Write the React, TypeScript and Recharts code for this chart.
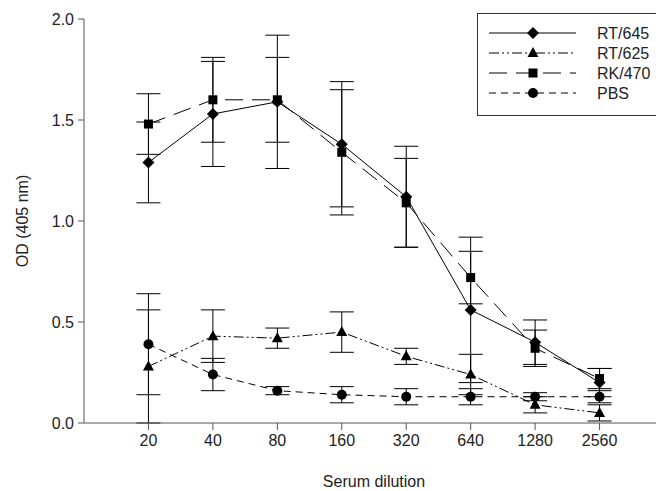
import React from 'react';
import { LineChart, Line, XAxis, YAxis, ErrorBar } from 'recharts';

const categories = ['20', '40', '80', '160', '320', '640', '1280', '2560'];
const yTicks = [0, 0.5, 1.0, 1.5, 2.0];

const rt645 = [1.29, 1.53, 1.59, 1.38, 1.12, 0.56, 0.4, 0.2];
const rt645Err = [0.2, 0.26, 0.33, 0.31, 0.25, 0.36, 0.11, 0.07];
const rt625 = [0.28, 0.43, 0.42, 0.45, 0.33, 0.24, 0.09, 0.05];
const rt625Err = [0.28, 0.13, 0.05, 0.1, 0.04, 0.1, 0.04, 0.04];
const rk470 = [1.48, 1.6, 1.6, 1.34, 1.09, 0.72, 0.37, 0.22];
const rk470Err = [0.15, 0.21, 0.21, 0.31, 0.22, 0.13, 0.09, 0.05];
const pbs = [0.39, 0.24, 0.16, 0.14, 0.13, 0.13, 0.13, 0.13];
const pbsErr = [0.25, 0.08, 0.02, 0.04, 0.04, 0.04, 0.02, 0.03];

const data = categories.map((c, i) => ({
  idx: i,
  rt645: rt645[i],
  rt645Err: rt645Err[i],
  rt625: rt625[i],
  rt625Err: rt625Err[i],
  rk470: rk470[i],
  rk470Err: rk470Err[i],
  pbs: pbs[i],
  pbsErr: pbsErr[i],
}));

const FONT = 'Liberation Sans, Arial, sans-serif';
const TEXT = '#222';

const Marker = ({ shape, cx, cy }: { shape: string; cx: number; cy: number }) => {
  if (shape === 'diamond') {
    return <path d={`M${cx},${cy - 6}L${cx + 6},${cy}L${cx},${cy + 6}L${cx - 6},${cy}Z`} fill="#000" />;
  }
  if (shape === 'triangle') {
    return <path d={`M${cx},${cy - 6}L${cx + 5.5},${cy + 4}L${cx - 5.5},${cy + 4}Z`} fill="#000" />;
  }
  if (shape === 'square') {
    return <rect x={cx - 4.5} y={cy - 4.5} width={9} height={9} fill="#000" />;
  }
  return <circle cx={cx} cy={cy} r={5} fill="#000" />;
};

const makeDot = (shape: string) => (props: any) => (
  <Marker key={`${shape}-${props.index}`} shape={shape} cx={props.cx} cy={props.cy} />
);

const series = [
  { key: 'rt645', name: 'RT/645', shape: 'diamond', dash: undefined },
  { key: 'rt625', name: 'RT/625', shape: 'triangle', dash: '10 3 2 3 2 3' },
  { key: 'rk470', name: 'RK/470', shape: 'square', dash: '18 9' },
  { key: 'pbs', name: 'PBS', shape: 'circle', dash: '7 5' },
];

const LegendBox = () => (
  <svg width={182} height={103} style={{ display: 'block' }}>
    <rect x={0.5} y={0.5} width={181} height={102} fill="#fff" stroke="#333" />
    {series.map((s, i) => {
      const y = 20 + i * 20;
      return (
        <g key={s.key}>
          <line x1={12} y1={y} x2={99} y2={y} stroke="#000" strokeDasharray={s.dash} />
          <Marker shape={s.shape} cx={56} cy={y} />
          <text x={120} y={y + 6} fontSize={16} fontFamily={FONT} fill={TEXT}>
            {s.name}
          </text>
        </g>
      );
    })}
  </svg>
);

const YLabel = ({ viewBox }: any) => {
  const cx = 14;
  const cy = viewBox.y + viewBox.height / 2;
  return (
    <text
      x={cx}
      y={cy}
      transform={`rotate(-90 ${cx} ${cy})`}
      textAnchor="middle"
      dominantBaseline="central"
      fontSize={16}
      fontFamily={FONT}
      fill={TEXT}
    >
      OD (405 nm)
    </text>
  );
};

export default function App() {
  return (
    <div style={{ position: 'relative', width: 656, height: 483, background: '#fff' }}>
      <LineChart width={656} height={483} data={data} margin={{ top: 11, right: 0, bottom: 0, left: 0 }}>
        <XAxis
          type="number"
          dataKey="idx"
          domain={[-1, 8]}
          ticks={categories.map((_, i) => i)}
          tickFormatter={(v: number) => categories[v]}
          stroke="#555"
          tick={{ fill: TEXT, fontSize: 16, fontFamily: FONT }}
          tickSize={7}
          tickMargin={5}
          height={68}
          allowDataOverflow
          label={{ value: 'Serum dilution', position: 'insideBottom', offset: 4, fill: TEXT, fontSize: 16, fontFamily: FONT }}
        />
        <YAxis
          domain={[0, 2]}
          ticks={yTicks}
          tickFormatter={(v: number) => v.toFixed(1)}
          stroke="#555"
          tick={{ fill: TEXT, fontSize: 16, fontFamily: FONT }}
          tickSize={6}
          tickMargin={4}
          width={76}
          label={<YLabel />}
        />
        {series.map((s) => (
          <Line
            key={s.key}
            dataKey={s.key}
            name={s.name}
            stroke="#000"
            strokeWidth={1}
            strokeDasharray={s.dash}
            dot={makeDot(s.shape)}
            activeDot={false}
            isAnimationActive={false}
          >
            <ErrorBar dataKey={`${s.key}Err`} direction="y" width={12} stroke="#000" strokeWidth={1} />
          </Line>
        ))}
      </LineChart>
      <div style={{ position: 'absolute', left: 469, top: 5 }}>
        <LegendBox />
      </div>
    </div>
  );
}
